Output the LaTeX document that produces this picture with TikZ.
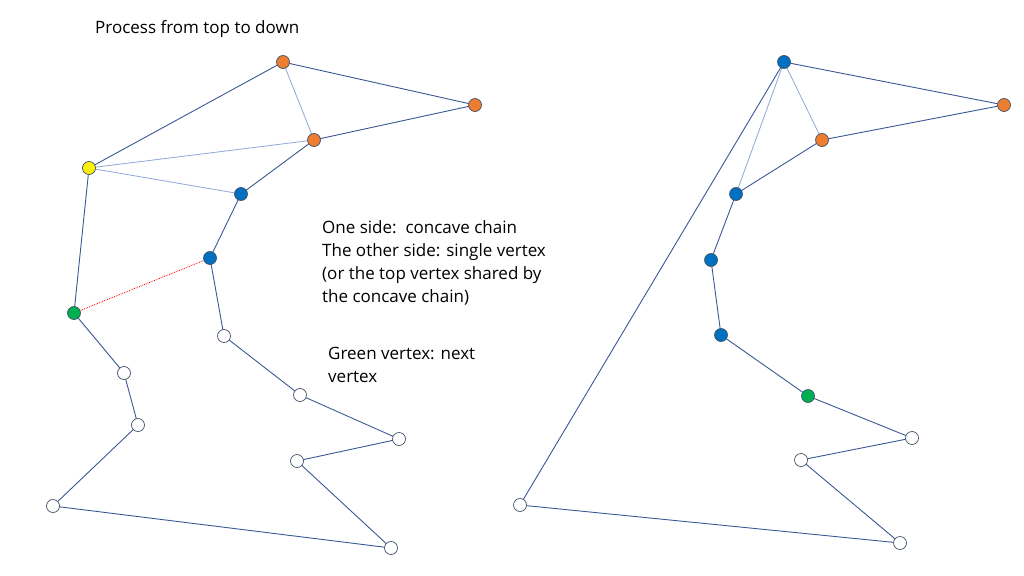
\documentclass[tikz,border=0pt]{standalone}
\usepackage{fontspec}
\setmainfont{Open Sans}
\begin{document}
\begin{tikzpicture}[x=1pt,y=-1pt,
  ln/.style={draw=edge,line width=0.9pt},
  lt/.style={draw=lightedge,line width=0.8pt},
  v/.style={circle,draw=vout,line width=0.7pt,minimum size=13pt,inner sep=0pt},
  ora/.style={v,fill=vor},blu/.style={v,fill=vbl},grn/.style={v,fill=vgr},
  yel/.style={v,fill=yellow},wht/.style={v,fill=white},
  txt/.style={font=\fontsize{17}{23}\selectfont,anchor=north west,align=left,inner sep=0pt}]
\definecolor{edge}{HTML}{3A5894}\definecolor{lightedge}{HTML}{8FA8D4}
\definecolor{vout}{HTML}{44546A}\definecolor{vor}{HTML}{ED7D31}
\definecolor{vbl}{HTML}{0070C0}\definecolor{vgr}{HTML}{00B050}
\useasboundingbox (0,0) rectangle (1024,575);
\coordinate (A) at (283,62);\coordinate (B) at (475,105);\coordinate (C) at (314,140);
\coordinate (D) at (241,194);\coordinate (E) at (210,258);\coordinate (F) at (224,336);
\coordinate (G) at (300,395);\coordinate (H) at (399,439);\coordinate (I) at (297,461);
\coordinate (J) at (391,548);\coordinate (K) at (53,506);\coordinate (L) at (138,425);
\coordinate (M) at (124,373);\coordinate (N) at (74,313);\coordinate (O) at (89,168);
\coordinate (P) at (784,62);\coordinate (Q) at (1004,105);\coordinate (R) at (822,140);
\coordinate (S) at (736,194);\coordinate (T) at (711,260);\coordinate (U) at (721,335);
\coordinate (V) at (808,396);\coordinate (W) at (912,438);\coordinate (X) at (801,460);
\coordinate (Y) at (900,543);\coordinate (Z) at (520,505);
\draw[lt] (A)--(C) (O)--(C) (O)--(D) (P)--(R) (P)--(S);
\draw[red,densely dotted,line width=0.8pt] (N)--(E);
\draw[ln] (A)--(B)--(C)--(D)--(E)--(F)--(G)--(H)--(I)--(J)--(K)--(L)--(M)--(N)--(O)--cycle;
\draw[ln] (P)--(Q)--(R)--(S)--(T)--(U)--(V)--(W)--(X)--(Y)--(Z)--cycle;
\node[ora] (a) at (A){};\node[ora] (b) at (B){};\node[ora] (c) at (C){};
\node[blu] (d) at (D){};\node[blu] (e) at (E){};\node[wht] (f) at (F){};
\node[wht] (g) at (G){};\node[wht] (h) at (H){};\node[wht] (i) at (I){};
\node[wht] (j) at (J){};\node[wht] (k) at (K){};\node[wht] (l) at (L){};
\node[wht] (m) at (M){};\node[grn] (n) at (N){};\node[yel] (o) at (O){};
\node[blu] (p) at (P){};\node[ora] (q) at (Q){};\node[ora] (r) at (R){};
\node[blu] (s) at (S){};\node[blu] (t) at (T){};\node[blu] (u) at (U){};
\node[grn] (v) at (V){};\node[wht] (w) at (W){};\node[wht] (x) at (X){};
\node[wht] (y) at (Y){};\node[wht] (z) at (Z){};
\node[txt] (t1) at (95,20) {Process from top to down};
\node[txt] (t2) at (322,220) {One side:\ \ concave chain\\The other side: single vertex\\(or the top vertex shared by\\the concave chain)};
\node[txt] (t3) at (328,347) {Green vertex: next\\vertex};
\end{tikzpicture}
\end{document}
